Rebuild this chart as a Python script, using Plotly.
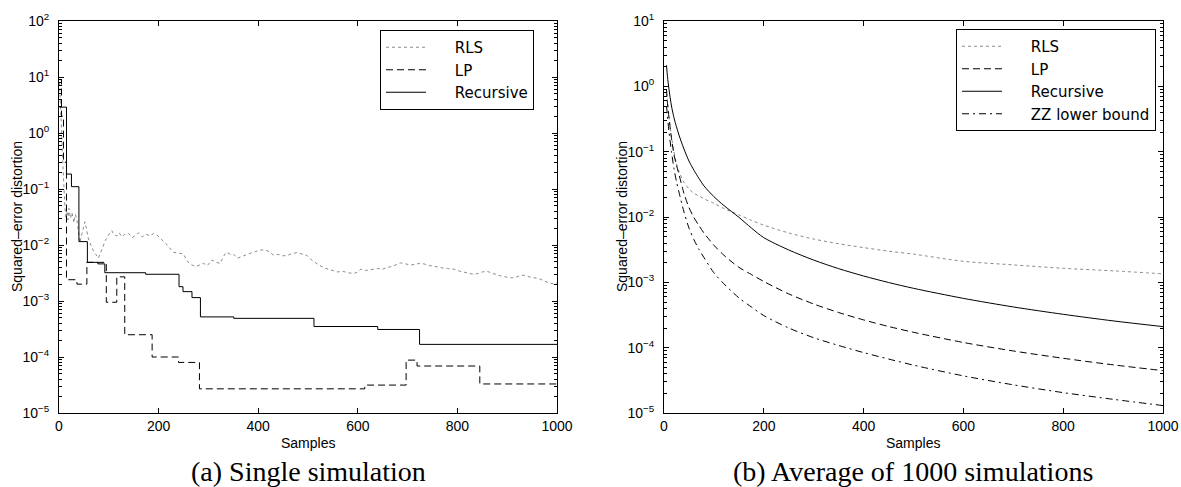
import plotly.graph_objects as go

# ---------------- (a) Single simulation ----------------
rls_a_x = [1, 3, 5, 8, 10, 12, 14, 16, 18, 20, 23, 26, 30, 33, 36, 39, 42, 46, 49, 52, 55, 58,
           62, 66, 70, 74, 79, 84, 88, 93, 98, 103, 106, 110, 116, 121, 126, 132, 140, 147, 153,
           160, 167, 175, 183, 190, 197, 204, 210, 215, 220, 225, 230, 240, 250, 257, 265, 274,
           282, 290, 298, 307, 315, 324, 330, 336, 343, 351, 358, 364, 372, 384, 394, 404, 414,
           422, 431, 440, 448, 458, 468, 478, 488, 498, 505, 512, 520, 532, 545, 559, 570, 579,
           592, 600, 606, 615, 624, 632, 640, 650, 659, 668, 677, 686, 696, 706, 715, 724, 733,
           742, 751, 760, 770, 780, 793, 805, 815, 825, 833, 842, 850, 860, 870, 878, 887, 896,
           905, 914, 924, 934, 944, 954, 964, 974, 984, 995, 1000]
rls_a_y = [8, 4, 1.2, 0.25, 0.08, 0.045, 0.03, 0.04, 0.028, 0.045, 0.03, 0.038, 0.025, 0.035,
           0.028, 0.018, 0.011, 0.016, 0.022, 0.026, 0.02, 0.014, 0.011, 0.009, 0.0075, 0.0068,
           0.0058, 0.0075, 0.0095, 0.012, 0.0145, 0.0165, 0.018, 0.0155, 0.0145, 0.0165, 0.014,
           0.0155, 0.016, 0.0135, 0.015, 0.0165, 0.014, 0.0155, 0.0145, 0.016, 0.015, 0.013,
           0.0115, 0.0105, 0.0095, 0.0082, 0.0074, 0.0072, 0.0069, 0.0052, 0.0045, 0.0041,
           0.0044, 0.0047, 0.0043, 0.0054, 0.0049, 0.0047, 0.0062, 0.0074, 0.0069, 0.0068,
           0.0058, 0.0061, 0.0066, 0.0071, 0.0076, 0.0081, 0.0082, 0.0076, 0.0066, 0.0068,
           0.0064, 0.0065, 0.0070, 0.0073, 0.0069, 0.0065, 0.0056, 0.0050, 0.0045, 0.0039,
           0.0036, 0.0033, 0.0034, 0.0032, 0.0031, 0.0033, 0.0037, 0.0035, 0.0036, 0.0037,
           0.0038, 0.0037, 0.0040, 0.0041, 0.0044, 0.0048, 0.0046, 0.0044, 0.0045, 0.0047,
           0.0046, 0.0043, 0.0042, 0.0040, 0.0039, 0.0038, 0.0037, 0.0034, 0.0032, 0.0031,
           0.0030, 0.0031, 0.0033, 0.0034, 0.0031, 0.0030, 0.0028, 0.0027, 0.0026, 0.0026,
           0.0028, 0.0029, 0.0027, 0.0026, 0.0025, 0.0023, 0.0021, 0.0020, 0.0021]

lp_a_x = [1, 5, 9, 15, 36, 56, 95, 116, 132, 187, 240, 282, 614, 697, 719, 845, 1000]
lp_a_y = [9, 2.0, 0.3, 0.0024, 0.0020, 0.0049, 0.00095, 0.0027, 0.00025, 1.0e-4, 8.0e-5,
          2.7e-5, 3.15e-5, 8.8e-5, 6.9e-5, 3.3e-5, 3.3e-5]

rec_a_x = [1, 15, 25, 40, 57, 78, 92, 174, 241, 249, 267, 284, 351, 512, 640, 724, 1000]
rec_a_y = [2.9, 0.185, 0.11, 0.0115, 0.0049, 0.0046, 0.0032, 0.0030, 0.0018, 0.00147, 0.00115,
           0.00052, 0.00049, 0.00035, 0.00031, 0.000168, 0.000168]

# ---------------- (b) Average of 1000 simulations ----------------
n_b = [5, 7, 10, 15, 20, 25, 30, 40, 50, 60, 70, 80, 100, 120, 150, 175, 200, 250, 300, 350,
       400, 450, 500, 600, 700, 800, 900, 1000]
rls_b = [0.8, 0.6, 0.35, 0.17, 0.1, 0.066, 0.05, 0.034, 0.027, 0.023, 0.021, 0.019, 0.0162,
         0.0135, 0.0108, 0.0089, 0.0075, 0.0057, 0.0046, 0.0039, 0.0034, 0.0030, 0.0027,
         0.0021, 0.00185, 0.00164, 0.0015, 0.00135]
lp_b = [0.9, 0.55, 0.33, 0.16, 0.09, 0.062, 0.045, 0.023, 0.014, 0.0098, 0.0074, 0.0057,
        0.0037, 0.0026, 0.0017, 0.00132, 0.00103, 0.000665, 0.000466, 0.000345, 0.000266,
        0.000211, 0.000172, 0.00012, 0.000089, 0.0000688, 0.0000546, 0.0000445]
rec_b = [2.1, 1.4, 0.9, 0.5, 0.33, 0.24, 0.18, 0.11, 0.072, 0.052, 0.039, 0.03, 0.0205,
         0.0150, 0.0099, 0.0068, 0.00483, 0.00313, 0.00219, 0.00162, 0.00125, 0.000995,
         0.00081, 0.000568, 0.00042, 0.000324, 0.000257, 0.00021]
zz_b = [0.5, 0.35, 0.2, 0.1, 0.055, 0.035, 0.024, 0.012, 0.0068, 0.0045, 0.0032, 0.0024,
        0.0014, 0.00095, 0.00058, 0.00042, 0.00031, 0.0002, 0.000142, 0.000108, 0.000084,
        0.000067, 0.000054, 0.000037, 0.000027, 0.0000205, 0.0000162, 0.000013]

x_ticks = [0, 200, 400, 600, 800, 1000]
y_exps_a = [-5, -4, -3, -2, -1, 0, 1, 2]
y_exps_b = [-5, -4, -3, -2, -1, 0, 1]

SANS = "Liberation Sans, Arial, Helvetica, sans-serif"
LEG = "DejaVu Sans, Liberation Sans, sans-serif"
SERIF = "Liberation Serif, DejaVu Serif, serif"
GRAY = "#8a8a8a"
DASH = "7px,4px"
DASHDOT = "7px,4px,2px,4px"
PAD = "\u00a0" * 5


def ytick_text(e):
    s = str(e).replace("-", "\u2212")
    return "10<sup>%s</sup>" % s


def minor_vals(exps):
    vals = []
    for e in exps[:-1]:
        for m in range(2, 10):
            vals.append(m * 10.0 ** e)
    return vals


fig = go.Figure()

fig.add_trace(go.Scatter(x=rls_a_x, y=rls_a_y, mode="lines", name=PAD + "RLS",
                         line=dict(color=GRAY, width=1, dash="dot"),
                         xaxis="x", yaxis="y", legend="legend"))
fig.add_trace(go.Scatter(x=lp_a_x, y=lp_a_y, mode="lines", name=PAD + "LP",
                         line=dict(color="black", width=1, dash=DASH, shape="hv"),
                         xaxis="x", yaxis="y", legend="legend"))
fig.add_trace(go.Scatter(x=rec_a_x, y=rec_a_y, mode="lines", name=PAD + "Recursive",
                         line=dict(color="black", width=1, shape="hv"),
                         xaxis="x", yaxis="y", legend="legend"))

fig.add_trace(go.Scatter(x=n_b, y=rls_b, mode="lines", name=PAD + "RLS",
                         line=dict(color=GRAY, width=1, dash="dot", shape="spline",
                                   smoothing=0.8),
                         xaxis="x2", yaxis="y2", legend="legend2"))
fig.add_trace(go.Scatter(x=n_b, y=lp_b, mode="lines", name=PAD + "LP",
                         line=dict(color="black", width=1, dash=DASH, shape="spline",
                                   smoothing=0.8),
                         xaxis="x2", yaxis="y2", legend="legend2"))
fig.add_trace(go.Scatter(x=n_b, y=rec_b, mode="lines", name=PAD + "Recursive",
                         line=dict(color="black", width=1, shape="spline", smoothing=0.8),
                         xaxis="x2", yaxis="y2", legend="legend2"))
fig.add_trace(go.Scatter(x=n_b, y=zz_b, mode="lines", name=PAD + "ZZ lower bound",
                         line=dict(color="black", width=1, dash=DASHDOT, shape="spline",
                                   smoothing=0.8),
                         xaxis="x2", yaxis="y2", legend="legend2"))

W, H = 1181, 487
ydom = [(H - 413) / H, (H - 21) / H]


def xaxis(dom, anchor):
    return dict(domain=dom, anchor=anchor, range=[0, 1000], tickmode="array",
                tickvals=x_ticks, ticktext=[str(v) for v in x_ticks],
                ticks="inside", ticklen=5, tickcolor="black", showline=True,
                linecolor="black", linewidth=1, mirror="ticks", showgrid=False,
                zeroline=False, tickfont=dict(family=SANS, size=14, color="black"),
                automargin=False)


def yaxis(exps, anchor):
    return dict(domain=ydom, anchor=anchor, type="log", range=[exps[0], exps[-1]],
                tickmode="array", tickvals=[10.0 ** e for e in exps],
                ticktext=[ytick_text(e) for e in exps],
                ticks="inside", ticklen=5, tickcolor="black", showline=True,
                linecolor="black", linewidth=1, mirror="ticks", showgrid=False,
                zeroline=False, ticklabelstandoff=6,
                tickfont=dict(family=SANS, size=14, color="black"),
                minor=dict(tickmode="array", tickvals=minor_vals(exps), ticks="inside",
                           ticklen=3, tickcolor="black", showgrid=False),
                automargin=False)


def legend(x, y):
    return dict(x=x, y=y, xanchor="left", yanchor="top",
                bordercolor="black", borderwidth=1, bgcolor="white",
                font=dict(family=LEG, size=15, color="black"), itemwidth=40,
                tracegroupgap=0)


title_font = dict(family=SANS, size=14, color="black")
cap_font = dict(family=SERIF, size=28, color="black")

fig.update_layout(
    width=W, height=H,
    margin=dict(l=0, r=0, t=0, b=0),
    paper_bgcolor="white", plot_bgcolor="white",
    xaxis=xaxis([59 / W, 557 / W], "y"),
    yaxis=yaxis(y_exps_a, "x"),
    xaxis2=xaxis([664 / W, 1163 / W], "y2"),
    yaxis2=yaxis(y_exps_b, "x2"),
    legend=legend(380 / W, 1 - 30 / H),
    legend2=legend(956 / W, 1 - 29 / H),
    showlegend=True,
    annotations=[
        dict(text="Samples", x=308 / W, y=1 - 443 / H, xref="paper", yref="paper",
             showarrow=False, xanchor="center", yanchor="middle", font=title_font),
        dict(text="Samples", x=913 / W, y=1 - 443 / H, xref="paper", yref="paper",
             showarrow=False, xanchor="center", yanchor="middle", font=title_font),
        dict(text="Squared\u2013error distortion", x=17 / W, y=1 - 217 / H, xref="paper",
             yref="paper", showarrow=False, xanchor="center", yanchor="middle",
             textangle=-90, font=title_font),
        dict(text="Squared\u2013error distortion", x=622 / W, y=1 - 217 / H, xref="paper",
             yref="paper", showarrow=False, xanchor="center", yanchor="middle",
             textangle=-90, font=title_font),
        dict(text="(a) Single simulation", x=308 / W, y=1 - 471 / H, xref="paper",
             yref="paper", showarrow=False, xanchor="center", yanchor="middle",
             font=cap_font),
        dict(text="(b) Average of 1000 simulations", x=913 / W, y=1 - 471 / H,
             xref="paper", yref="paper", showarrow=False, xanchor="center",
             yanchor="middle", font=cap_font),
    ],
)

fig.write_html("out.html")
